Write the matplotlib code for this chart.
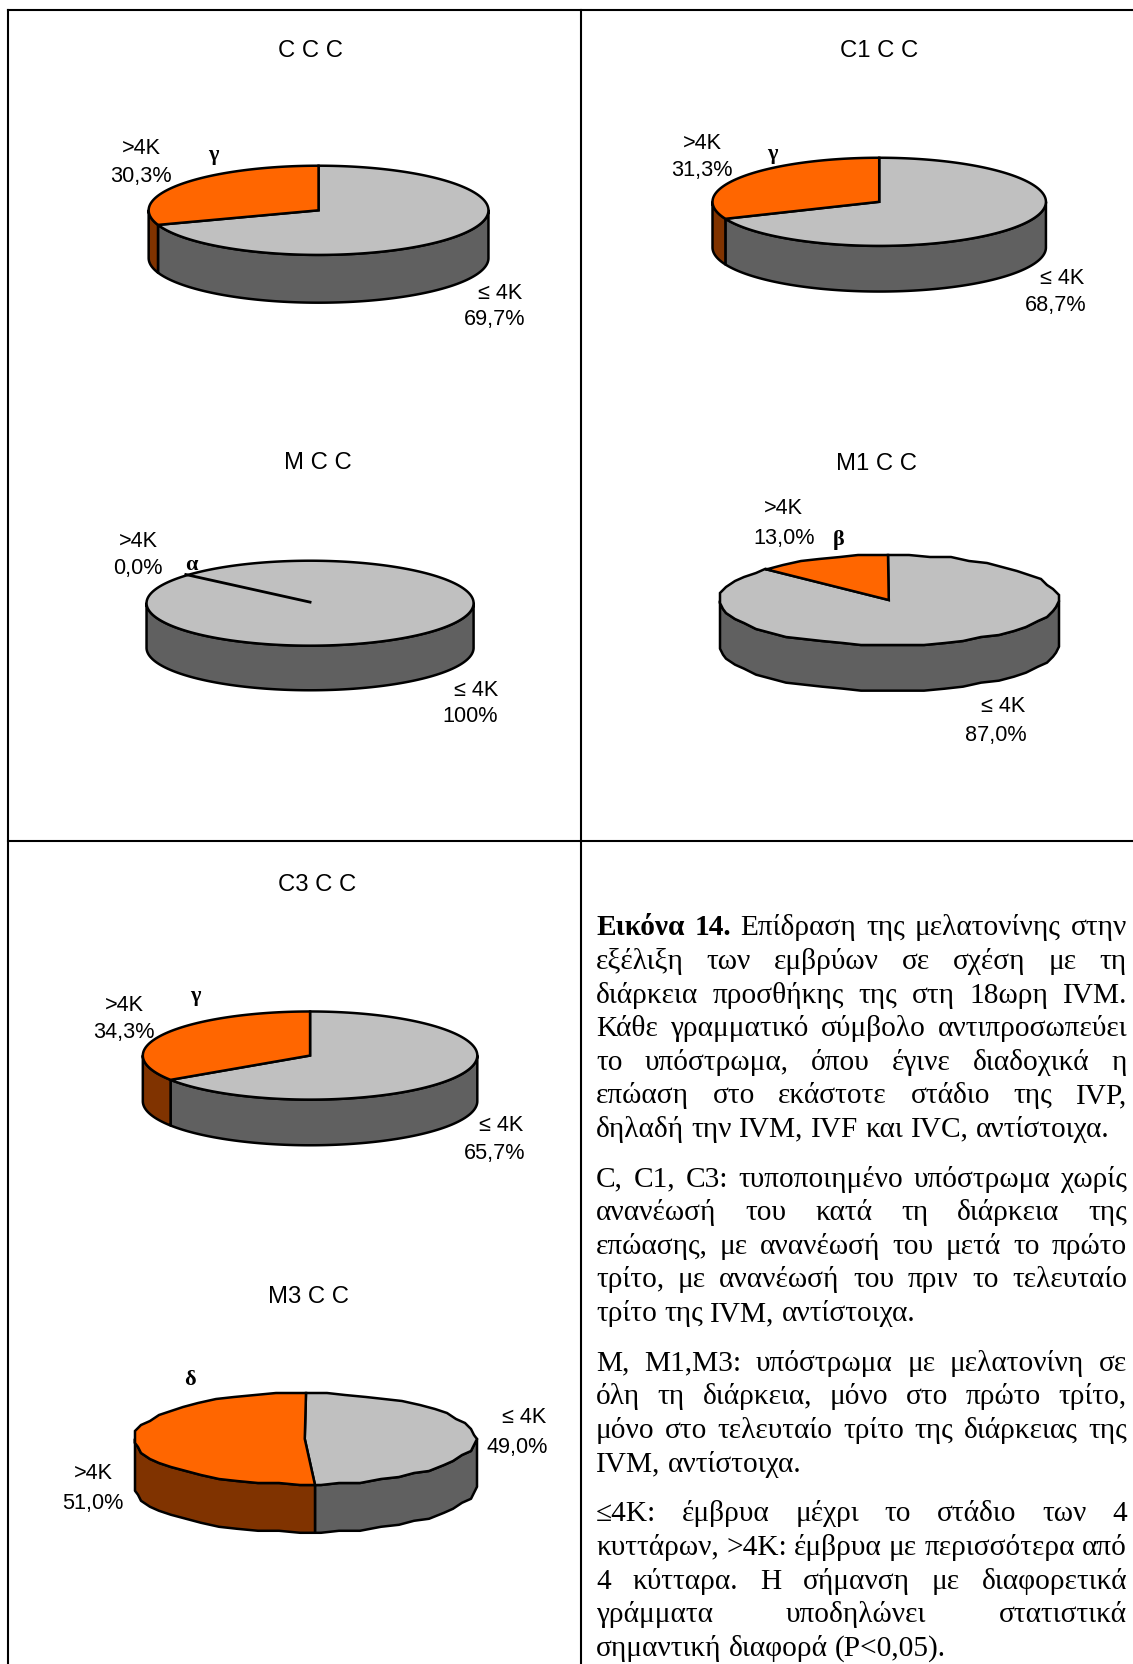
import numpy as np
import matplotlib
matplotlib.use('Agg')
import matplotlib.pyplot as plt

# share of embryos per group, in percent
groups = ['C C C', 'C1 C C', 'M C C', 'M1 C C', 'C3 C C', 'M3 C C']
over_4k = [30.3, 31.3, 0.0, 13.0, 34.3, 51.0]
upto_4k = [69.7, 68.7, 100.0, 87.0, 65.7, 49.0]
over_labels = ['30,3%', '31,3%', '0,0%', '13,0%', '34,3%', '51,0%']
upto_labels = ['69,7%', '68,7%', '100%', '87,0%', '65,7%', '49,0%']
letters = ['γ', 'γ', 'α', 'β', 'γ', 'δ']

caption = [
    ['Εικόνα 14. Επίδραση της μελατονίνης στην',
     'εξέλιξη των εμβρύων σε σχέση με τη',
     'διάρκεια προσθήκης της στη 18ωρη IVM.',
     'Κάθε γραμματικό σύμβολο αντιπροσωπεύει',
     'το υπόστρωμα, όπου έγινε διαδοχικά η',
     'επώαση στο εκάστοτε στάδιο της IVP,',
     'δηλαδή την IVM, IVF και IVC, αντίστοιχα.'],
    ['C, C1, C3: τυποποιημένο υπόστρωμα χωρίς',
     'ανανέωσή του κατά τη διάρκεια της',
     'επώασης, με ανανέωσή του μετά το πρώτο',
     'τρίτο, με ανανέωσή του πριν το τελευταίο',
     'τρίτο της IVM, αντίστοιχα.'],
    ['M, M1,M3: υπόστρωμα με μελατονίνη σε',
     'όλη τη διάρκεια, μόνο στο πρώτο τρίτο,',
     'μόνο στο τελευταίο τρίτο της διάρκειας της',
     'IVM, αντίστοιχα.'],
    ['≤4K: έμβρυα μέχρι το στάδιο των 4',
     'κυττάρων, >4K: έμβρυα με περισσότερα από',
     '4 κύτταρα. Η σήμανση με διαφορετικά',
     'γράμματα υποδηλώνει στατιστικά',
     'σημαντική διαφορά (P<0,05).'],
]

# layout, read in the 1067 wide view and scaled to the full picture
S = 1133 / 1067
# cx, cy, rx, ry, depth, step of the outline in degrees
pie_pos = [
    (300, 199, 160, 42, 45, 1),
    (828, 191, 157, 41.5, 43, 1),
    (292, 569, 154, 40, 42, 1),
    (837, 566, 160, 42.5, 43, 7),
    (292, 995, 157.5, 41.5, 43, 1),
    (287, 1356, 161, 43, 45, 7),
]
title_pos = [(292, 47), (828, 47), (299, 435), (825, 436), (299, 832), (291, 1220)]
# centre of the first label line, centre of the second one
over_pos = [((133, 139), (133, 165)), ((661, 134), (661, 160)), ((130, 509), (130, 534)),
            ((738, 478), (738, 506)), ((117, 946), (117, 971)), ((88, 1387), (87, 1415))]
upto_pos = [((471, 275), (466, 300)), ((1000, 261), (994, 287)), ((448, 649), (443, 674)),
            ((945, 664), (938, 692)), ((472, 1059), (466, 1085)), ((494, 1334), (487, 1362))]
letter_pos = [(201, 144.5), (727, 143.5), (180, 531), (790, 507), (184, 937), (179, 1298)]

ORANGE = '#FF6600'
ORANGE_SIDE = '#803300'
GREY = '#C0C0C0'
GREY_SIDE = '#606060'
ARIAL = 'Liberation Sans'
TIMES = 'Liberation Serif'
LW = 1.5
PIE_LW = 1.8

fig = plt.figure(figsize=(11.33, 16.65), dpi=100)
ax = fig.add_axes([0, 0, 1, 1])
ax.set_xlim(0, 1133)
ax.set_ylim(1665, 0)
ax.axis('off')


def rim(cx, cy, rx, ry, a0, a1, step):
    # clockwise from 12 o'clock, in degrees, same grid for walls and top
    grid = np.arange(np.ceil(a0 / step), np.floor(a1 / step) + 1) * step
    t = np.radians(np.unique(np.r_[a0, grid, a1]))
    x, y = cx + rx * np.sin(t), cy - ry * np.cos(t)
    if step > 1:
        # the rough pies have a stepped outline
        x, y = np.round(x / 3) * 3, np.round(y / 2) * 2
    return x, y


def side(cx, cy, rx, ry, d, a0, a1, step, color):
    if a1 <= a0:
        return
    x, y = rim(cx, cy, rx, ry, a0, a1, step)
    ax.fill(np.r_[x, x[::-1]], np.r_[y, y[::-1] + d], facecolor=color,
            edgecolor='black', lw=PIE_LW, joinstyle='round')


def top(cx, cy, rx, ry, a0, a1, step, color):
    if a1 <= a0:
        return
    x, y = rim(cx, cy, rx, ry, a0, a1, step)
    if a1 - a0 >= 360:
        ax.fill(x, y, facecolor=color, edgecolor='black', lw=PIE_LW)
    else:
        ax.fill(np.r_[cx, x], np.r_[cy, y], facecolor=color, edgecolor='black', lw=PIE_LW)


for i, name in enumerate(groups):
    cx, cy, rx, ry, d, step = pie_pos[i]
    cx, cy, rx, ry, d = cx * S, cy * S, rx * S, ry * S, d * S
    split = 360 * upto_4k[i] / (upto_4k[i] + over_4k[i])

    # walls first, only the front half shows
    side(cx, cy, rx, ry, d, 90, min(270, split), step, GREY_SIDE)
    side(cx, cy, rx, ry, d, max(90, split), 270, step, ORANGE_SIDE)
    top(cx, cy, rx, ry, 0, split, step, GREY)
    top(cx, cy, rx, ry, split, 360, step, ORANGE)

    ax.text(title_pos[i][0] * S, title_pos[i][1] * S + 1.5, name, family=ARIAL, fontsize=17.2,
            ha='center', va='center')
    (x1, y1), (x2, y2) = over_pos[i]
    ax.text(x1 * S, y1 * S + 1, '>4K', family=ARIAL, fontsize=15.6, ha='center', va='center')
    ax.text(x2 * S, y2 * S + 1, over_labels[i], family=ARIAL, fontsize=15.6, ha='center', va='center')
    (x1, y1), (x2, y2) = upto_pos[i]
    ax.text(x1 * S, y1 * S + 1, '≤ 4K', family=ARIAL, fontsize=15.6, ha='center', va='center')
    ax.text(x2 * S, y2 * S + 1, upto_labels[i], family=ARIAL, fontsize=15.6, ha='center', va='center')
    ax.text(letter_pos[i][0] * S, letter_pos[i][1] * S + 1.5, letters[i], family=TIMES, fontsize=16,
            fontweight='bold', ha='center', va='center')

# the 0,0% group has only a hand drawn line on the pie
ax.plot([175 * S, 292 * S], [542 * S, 568 * S], color='black', lw=2)

# table lines
ax.plot([8, 8], [11, 1665], color='black', lw=LW)
ax.plot([8, 1133], [11, 11], color='black', lw=LW)
ax.plot([581, 581], [11, 1665], color='black', lw=LW)
ax.plot([8, 1133], [842, 842], color='black', lw=LW)

# caption, justified by hand
left = 596
right = 1127
size = 21.2
fig.canvas.draw()
rend = fig.canvas.get_renderer()


def word_width(word, weight):
    t = ax.text(0, 0, word, family=TIMES, fontsize=size, fontweight=weight)
    w = t.get_window_extent(rend).width
    t.remove()
    return w


y = 881 * S
for p, para in enumerate(caption):
    for n, line in enumerate(para):
        words = line.split(' ')
        weights = ['bold' if p == 0 and n == 0 and k < 2 else 'normal' for k in range(len(words))]
        widths = [word_width(w, wt) for w, wt in zip(words, weights)]
        if n == len(para) - 1:
            gap = size * 100 / 72 * 0.25
        else:
            gap = (right - left - sum(widths)) / (len(words) - 1)
        x = left
        for w, wt, wd in zip(words, weights, widths):
            ax.text(x, y, w, family=TIMES, fontsize=size, fontweight=wt, ha='left', va='baseline')
            x += wd + gap
        y += 31.6 * S
    y += 15.4 * S

fig.savefig('out.png', dpi=100)
